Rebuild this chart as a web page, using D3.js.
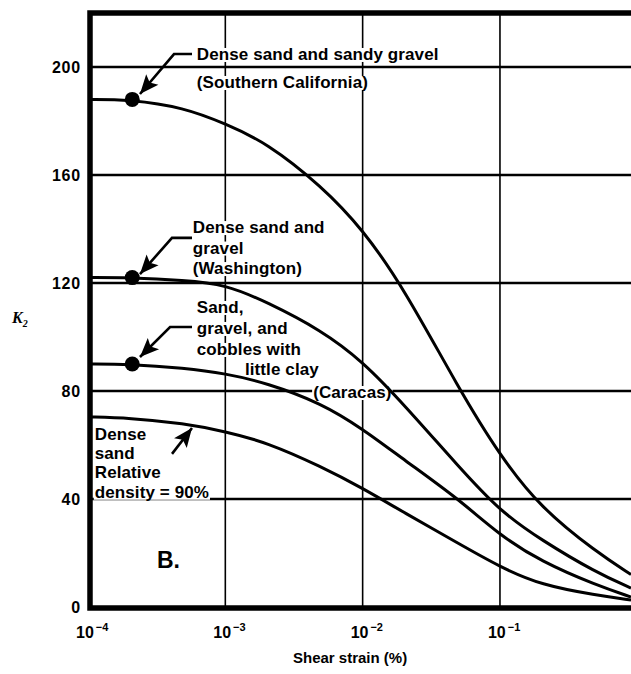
<!DOCTYPE html>
<html>
<head>
<meta charset="utf-8">
<script src="https://cdn.jsdelivr.net/npm/d3@7"></script>
<style>
  body { margin: 0; background: #fff; }
  text { font-family: "Liberation Sans", Arial, sans-serif; font-weight: bold; fill: #000; }
</style>
</head>
<body>
<div id="chart"></div>
<script>
const width = 631,
  height = 674;

// shear strain (%) sample points, then K2
const strain = [1e-4, 2e-4, 5e-4, 1e-3, 2e-3, 5e-3, 1e-2, 2e-2, 5e-2, 1e-1, 2e-1, 5e-1, 0.9];
const southernCalifornia = [188, 188, 185, 179, 172, 156, 140, 118, 81, 56, 36.5, 20.5, 12];
const washington = [122, 122, 121, 119.5, 113, 102.5, 91, 75, 52, 35.5, 24.8, 12.8, 7];
const caracas = [90, 90, 88.5, 86.5, 83, 75.5, 66, 54.5, 40, 26.5, 16.8, 8.1, 3.7];
const denseSand = [70.4, 70, 68, 65, 61, 52, 44, 35, 23.5, 14.8, 8.1, 4.4, 2.6];

// big dots sit on the first three curves here
const dotStrain = 2.1e-4;
const dotCurves = [southernCalifornia, washington, caracas];

const yTicks = [0, 40, 80, 120, 160, 200];
const xTicks = [1e-4, 1e-3, 1e-2, 1e-1];
const xTickExp = ['\u22124', '\u22123', '\u22122', '\u22121'];

// annotation text, anchored in data units [strain, K2]
const labelLines = [
  { at: [6.2e-4, 202.6], step: 28, lines: ['Dense sand and sandy gravel', '(Southern California)'] },
  { at: [5.8e-4, 138.5], step: 20.5, lines: ['Dense sand and', 'gravel', '(Washington)'] },
  { at: [6.2e-4, 108.9], step: 21, lines: ['Sand,', 'gravel, and', 'cobbles with'] },
  { at: [1.39e-3, 85.9], step: 0, lines: ['little clay'] },
  { at: [4.36e-3, 77.4], step: 0, lines: ['(Caracas)'] },
  { at: [1.12e-4, 61.9], step: 19.3, lines: ['Dense', 'sand', 'Relative', 'density = 90%'] },
];

// leader arrows: tail ... tip, in data units
const arrows = [
  [[5.72e-4, 204.8], [4.23e-4, 204.8], [2.39e-4, 190]],
  [[5.72e-4, 136.7], [4.09e-4, 136.7], [2.39e-4, 123.3]],
  [[5.72e-4, 103.7], [3.96e-4, 103.7], [2.39e-4, 92.6]],
  [[4.09e-4, 56.7], [5.72e-4, 66.3]],
];

const x = d3.scaleLog().domain([1e-4, 0.9]).range([88, 631]);
const y = d3.scaleLinear().domain([0, 220]).range([607, 13]);

const svg = d3.select('#chart').append('svg')
  .attr('width', width)
  .attr('height', height);

svg.append('defs').append('marker')
  .attr('id', 'head')
  .attr('viewBox', '-20 -9 22 18')
  .attr('markerUnits', 'userSpaceOnUse')
  .attr('markerWidth', 22)
  .attr('markerHeight', 18)
  .attr('refX', 0)
  .attr('refY', 0)
  .attr('orient', 'auto')
  .append('path')
  .attr('d', 'M0,0 L-19,-8 L-15,0 L-19,8 Z')
  .attr('fill', '#000');

const grid = svg.append('g');
const bg = svg.append('g');
const marks = svg.append('g');
const fg = svg.append('g');

// grid
grid.selectAll('.h').data(yTicks.filter(d => d > 0)).enter()
  .append('line')
  .attr('x1', x(1e-4)).attr('x2', width)
  .attr('y1', d => y(d)).attr('y2', d => y(d))
  .attr('stroke', '#000').attr('stroke-width', 2.6);

grid.selectAll('.v').data(xTicks.slice(1)).enter()
  .append('line')
  .attr('x1', d => x(d)).attr('x2', d => x(d))
  .attr('y1', y(220)).attr('y2', y(0))
  .attr('stroke', '#000').attr('stroke-width', 1.6);

// frame (right side runs off the page)
const fx = x(1e-4) + 2;
svg.append('path')
  .attr('d', `M${width},${y(220)} H${fx} V${y(0) + 1} H${width}`)
  .attr('fill', 'none')
  .attr('stroke', '#000')
  .attr('stroke-width', 5.5);

// curves, smoothed through the read-off points
const line = d3.line()
  .x(d => x(d[0]))
  .y(d => y(d[1]))
  .curve(d3.curveBasis);

[southernCalifornia, washington, caracas, denseSand].forEach(vals => {
  marks.append('path')
    .attr('d', line(strain.map((s, i) => [s, vals[i]])))
    .attr('fill', 'none')
    .attr('stroke', '#000')
    .attr('stroke-width', 3);
});

marks.selectAll('circle').data(dotCurves).enter()
  .append('circle')
  .attr('cx', x(dotStrain))
  .attr('cy', d => y(d[1]))
  .attr('r', 7.5)
  .attr('fill', '#000');

arrows.forEach(pts => {
  marks.append('path')
    .attr('d', d3.line().x(d => x(d[0])).y(d => y(d[1]))(pts))
    .attr('fill', 'none')
    .attr('stroke', '#000')
    .attr('stroke-width', 2.6)
    .attr('marker-end', 'url(#head)');
});

// annotation text with white knock-out behind each line
labelLines.forEach(l => {
  l.lines.forEach((s, i) => {
    const t = fg.append('text')
      .attr('x', x(l.at[0]))
      .attr('y', y(l.at[1]) + i * l.step)
      .attr('font-size', 17)
      .attr('letter-spacing', 0.1)
      .text(s);
    const b = t.node().getBBox();
    bg.append('rect')
      .attr('x', b.x - 1).attr('y', b.y + 3)
      .attr('width', b.width + 2).attr('height', b.height - 5)
      .attr('fill', '#fff');
  });
});

fg.append('text')
  .attr('x', x(3.18e-4))
  .attr('y', y(14.4))
  .attr('font-size', 23)
  .text('B.');

// y axis labels
fg.selectAll('.yl').data(yTicks).enter()
  .append('text')
  .attr('x', x(1e-4) - 7)
  .attr('y', d => y(d) + 6)
  .attr('text-anchor', 'end')
  .attr('font-size', 16)
  .attr('letter-spacing', 0.8)
  .text(d => d);

const k2 = fg.append('text')
  .attr('x', 12)
  .attr('y', 323)
  .attr('font-size', 16)
  .style('font-family', '"Liberation Serif", serif')
  .style('font-style', 'italic');
k2.append('tspan').text('K');
k2.append('tspan').attr('dy', 4).attr('font-size', 10).text('2');

// x axis labels
xTicks.forEach((t, i) => {
  const lab = fg.append('text')
    .attr('x', x(t) - 12)
    .attr('y', 638)
    .attr('font-size', 16);
  lab.append('tspan').text('10');
  lab.append('tspan').attr('dx', 2).attr('dy', -7).attr('font-size', 11).text(xTickExp[i]);
});

fg.append('text')
  .attr('x', 293)
  .attr('y', 663)
  .attr('font-size', 15)
  .text('Shear strain (%)');
</script>
</body>
</html>
